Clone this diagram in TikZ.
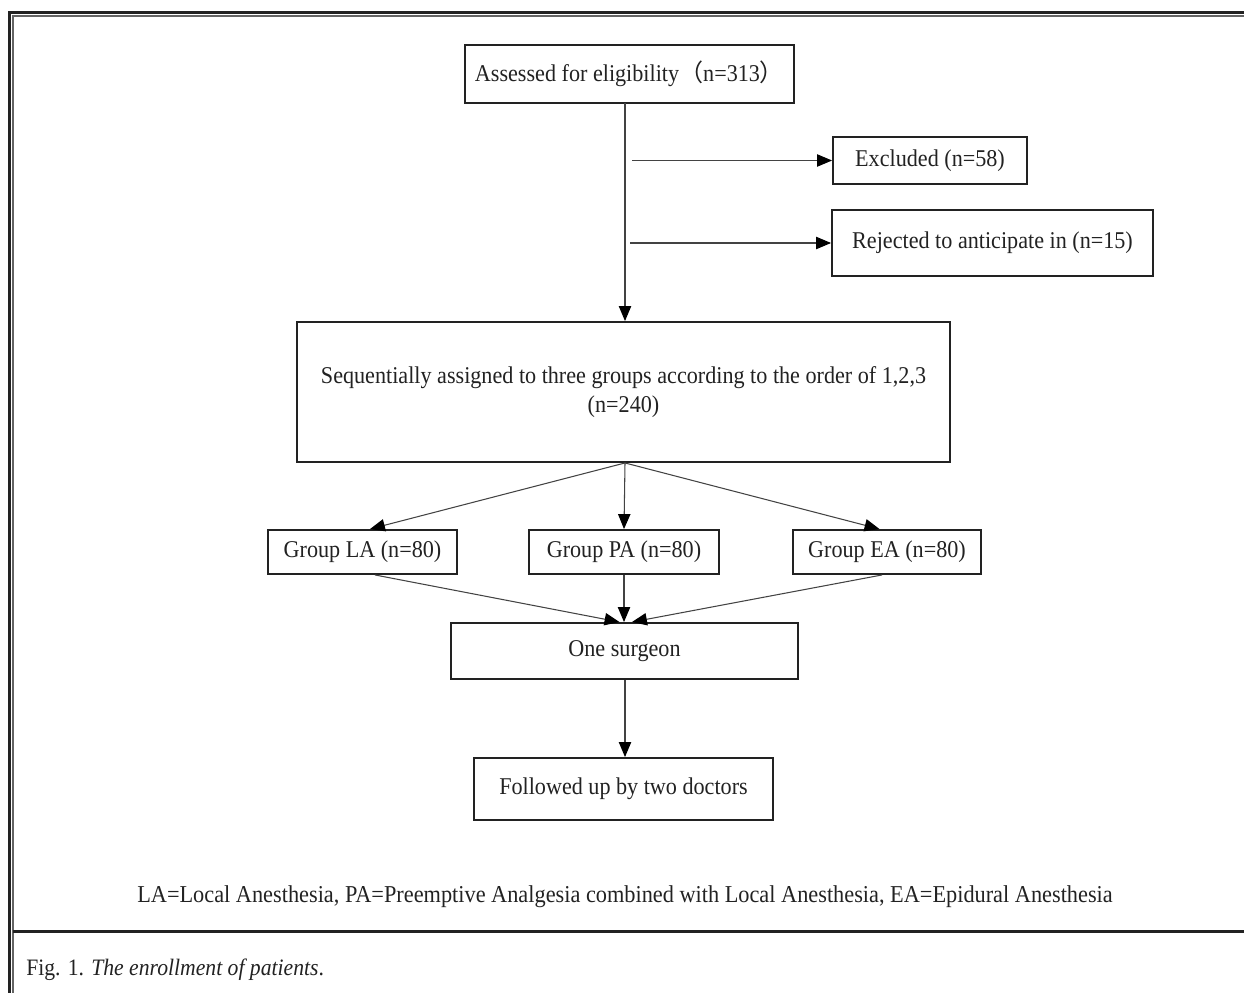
\documentclass[tikz,border=0pt]{standalone}
\usepackage{fontspec}
\setmainfont{Liberation Serif}[FakeStretch=0.92]
\newfontfamily\cjk{Noto Sans CJK SC}
\usetikzlibrary{arrows.meta}
\definecolor{ink}{HTML}{222222}
\tikzset{
  box/.style={draw=ink, line width=1.1pt, fill=white, inner sep=0pt, align=center,
    font=\fontsize{13.7}{16.5}\selectfont, text=ink},
  arr/.style={draw=ink!85, line width=0.6pt, -{Triangle[length=8.5pt,width=7pt,color=black,fill=black]}},
  frame/.style={draw=ink, line width=1.5pt},
  thin frame/.style={draw=ink!70, line width=0.6pt}
}
\begin{document}
\begin{tikzpicture}[x=0.02cm,y=-0.02cm]
\useasboundingbox (0,0) rectangle (1244,993);
% frame
\draw[frame] (9.5,993) -- (9.5,12.5) -- (1244,12.5);
\draw[thin frame] (13,993) -- (13,16) -- (1244,16);
\draw[frame] (13,931.5) -- (1244,931.5);
% boxes
\node[box, minimum width=6.58cm, minimum height=1.16cm] (ass) at (629.5,74)
  {Assessed for eligibility{\cjk （}n=313{\cjk ）}};
\node[box, minimum width=3.88cm, minimum height=0.94cm] (exc) at (930,160.5) {Excluded (n=58)};
\node[box, minimum width=6.42cm, minimum height=1.32cm] (rej) at (992.5,243) {Rejected to anticipate in (n=15)};
\node[box, minimum width=13.06cm, minimum height=2.80cm] (seq) at (623.5,392)
  {Sequentially assigned to three groups according to the order of 1,2,3\\(n=240)};
\node[box, minimum width=3.78cm, minimum height=0.88cm] (la) at (362.5,552) {Group LA (n=80)};
\node[box, minimum width=3.80cm, minimum height=0.88cm] (pa) at (624,552) {Group PA (n=80)};
\node[box, minimum width=3.76cm, minimum height=0.88cm] (ea) at (887,552) {Group EA (n=80)};
\node[box, minimum width=6.94cm, minimum height=1.12cm] (surg) at (624.5,651) {One surgeon};
\node[box, minimum width=5.98cm, minimum height=1.24cm] (fol) at (623.5,789) {Followed up by two doctors};
% connectors
\coordinate (top) at (625,103);
\coordinate (e0) at (632,160.5);
\coordinate (r0) at (630,243);
\draw[arr] (top) -- (top |- seq.north);
\draw[arr] (e0) -- (exc.west);
\draw[arr] (r0) -- (rej.west);
\draw[arr] (seq.south -| top) -- ([xshift=0.15cm]la.north);
\draw[arr] (seq.south -| top) -- (pa.north);
\draw[arr] (seq.south -| top) -- ([xshift=-0.15cm]ea.north);
\draw[arr] ([xshift=0.25cm]la.south) -- ([xshift=-0.1cm]surg.north);
\draw[arr] (pa.south) -- (pa.south |- surg.north);
\draw[arr] ([xshift=-0.1cm]ea.south) -- ([xshift=0.15cm]surg.north);
\draw[arr] (surg.south -| top) -- (top |- fol.north);
% footnote and caption
\node[font=\fontsize{13.8}{16}\selectfont, text=ink] (note) at (625,897)
  {LA=Local Anesthesia, PA=Preemptive Analgesia combined with Local Anesthesia, EA=Epidural Anesthesia};
\node[anchor=west, font=\fontsize{13.4}{15}\selectfont, text=ink, inner sep=0pt] (cap) at (26,970)
  {Fig. 1. \textit{The enrollment of patients}.};
\end{tikzpicture}
\end{document}
